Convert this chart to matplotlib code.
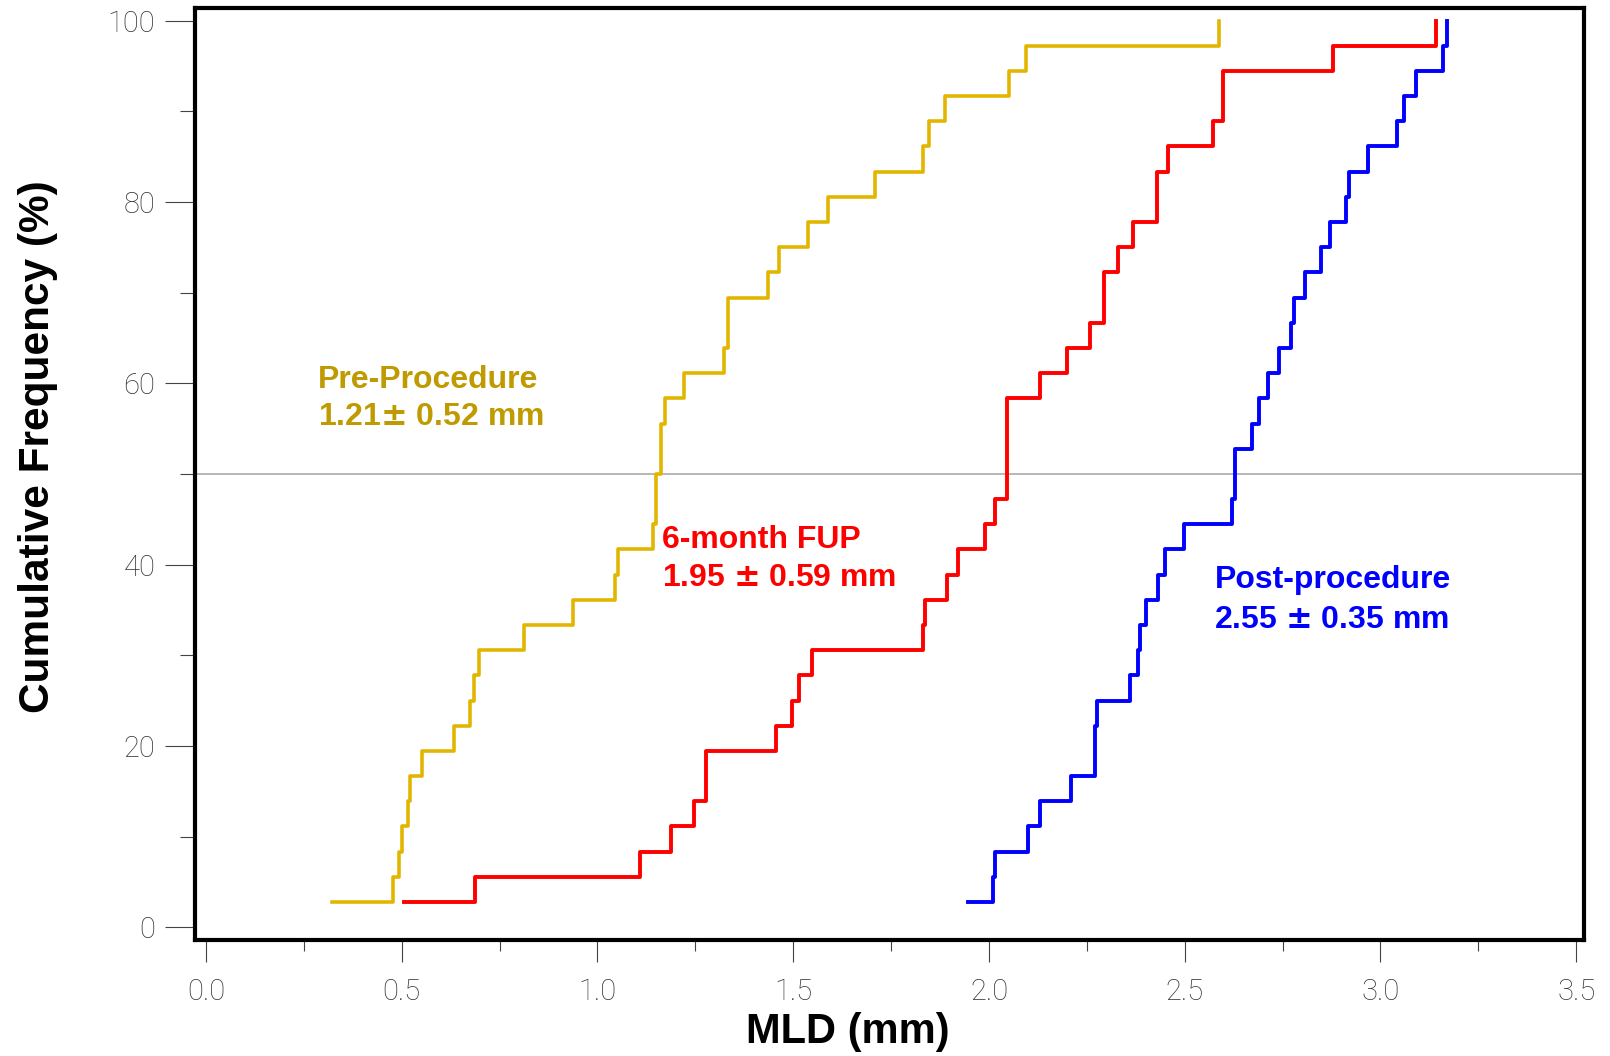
import numpy as np
import matplotlib
matplotlib.use("Agg")
from matplotlib import pyplot as plt
from matplotlib.ticker import MultipleLocator

# MLD values (mm) at each cumulative step, n = 36 per group
pre_mld = [0.323, 0.477, 0.494, 0.502, 0.517, 0.521, 0.553, 0.633, 0.674, 0.685,
           0.698, 0.812, 0.938, 1.045, 1.053, 1.141, 1.150, 1.150, 1.163, 1.163,
           1.173, 1.220, 1.323, 1.333, 1.333, 1.435, 1.464, 1.538, 1.588, 1.709,
           1.831, 1.848, 1.888, 2.050, 2.095, 2.587]
fup_mld = [0.505, 0.686, 1.108, 1.187, 1.247, 1.276, 1.276, 1.457, 1.496, 1.515,
           1.549, 1.832, 1.837, 1.892, 1.921, 1.989, 2.015, 2.047, 2.047, 2.047,
           2.047, 2.131, 2.199, 2.259, 2.295, 2.295, 2.330, 2.368, 2.430, 2.430,
           2.458, 2.571, 2.599, 2.599, 2.879, 3.141]
post_mld = [1.946, 2.010, 2.016, 2.100, 2.130, 2.209, 2.271, 2.271, 2.277, 2.361,
            2.381, 2.387, 2.400, 2.431, 2.450, 2.499, 2.621, 2.628, 2.628, 2.671,
            2.689, 2.712, 2.740, 2.771, 2.779, 2.808, 2.849, 2.871, 2.911, 2.919,
            2.968, 3.041, 3.060, 3.090, 3.159, 3.170]

n = len(pre_mld)
cum_freq = [100.0 * (i + 1) / n for i in range(n)]

#labels (the wide plus-minus sign comes from mathtext)
pre_lines = ["Pre-Procedure", r"1.21$\pm$ 0.52 mm"]
fup_lines = ["6-month FUP", r"1.95 $\pm$ 0.59 mm"]
post_lines = ["Post-procedure", r"2.55 $\pm$ 0.35 mm"]

gold_line = "#E2B600"
gold_text = "#BF9A00"
red = "#FF0000"
blue = "#0000FF"

plt.rcParams["mathtext.fontset"] = "custom"
plt.rcParams["mathtext.rm"] = "DejaVu Sans:bold"
plt.rcParams["mathtext.it"] = "DejaVu Sans:bold"

fig = plt.figure(figsize=(16.1, 10.56), dpi=100)
ax = fig.add_axes([0.1211, 0.1103, 0.8628, 0.8819])

# reference line at the median
ax.axhline(50, color="#AAAAAA", lw=1.2, zorder=1)

ax.step(pre_mld, cum_freq, where="post", color=gold_line, lw=2.6, zorder=3)
ax.step(fup_mld, cum_freq, where="post", color=red, lw=2.8, zorder=3)
ax.step(post_mld, cum_freq, where="post", color=blue, lw=2.8, zorder=3)

ax.set_xlim(-0.028, 3.52)
ax.set_ylim(-1.36, 101.36)

for sp in ax.spines.values():
    sp.set_linewidth(3.0)
    sp.set_color("black")

ax.xaxis.set_major_locator(MultipleLocator(0.5))
ax.xaxis.set_minor_locator(MultipleLocator(0.25))
ax.yaxis.set_major_locator(MultipleLocator(20))
ax.yaxis.set_minor_locator(MultipleLocator(10))
ax.xaxis.set_major_formatter(plt.FuncFormatter(lambda v, p: f"{v:.1f}"))

ax.tick_params(axis="y", which="major", direction="out", length=21.6, width=0.8,
               color="#444444", pad=7, labelsize=21, labelcolor="#333333")
ax.tick_params(axis="y", which="minor", direction="out", length=10.8, width=0.8,
               color="#444444")
ax.tick_params(axis="x", which="major", direction="out", length=15.8, width=0.8,
               color="#444444", pad=12, labelsize=21, labelcolor="#333333")
ax.tick_params(axis="x", which="minor", direction="out", length=7.9, width=0.8,
               color="#444444")
for lab in ax.get_xticklabels() + ax.get_yticklabels():
    lab.set_fontfamily(["Roboto", "DejaVu Sans"])
    lab.set_fontweight("light")

ax.set_xlabel("MLD (mm)", fontsize=30, fontweight="bold", family="Liberation Sans")
ax.xaxis.set_label_coords(0.47, -0.099)
ax.xaxis.label.set_va("center")
ax.set_ylabel("Cumulative Frequency (%)", fontsize=30.5, fontweight="bold",
              family="Liberation Sans")
ax.yaxis.set_label_coords(-0.113, 0.529)
ax.yaxis.label.set_va("center")

# group annotations, one text per line
def put_label(x, y1, y2, lines, color):
    ax.text(x, y1, lines[0], color=color, fontsize=23, fontweight="bold",
            family="Liberation Sans", va="baseline", ha="left")
    ax.text(x, y2, lines[1], color=color, fontsize=23, fontweight="bold",
            family="Liberation Sans", va="baseline", ha="left")

put_label(0.287, 59.5, 55.4, pre_lines, gold_text)
put_label(1.166, 41.8, 37.6, fup_lines, red)
put_label(2.576, 37.4, 33.0, post_lines, blue)

plt.savefig("out.png", dpi=100)
